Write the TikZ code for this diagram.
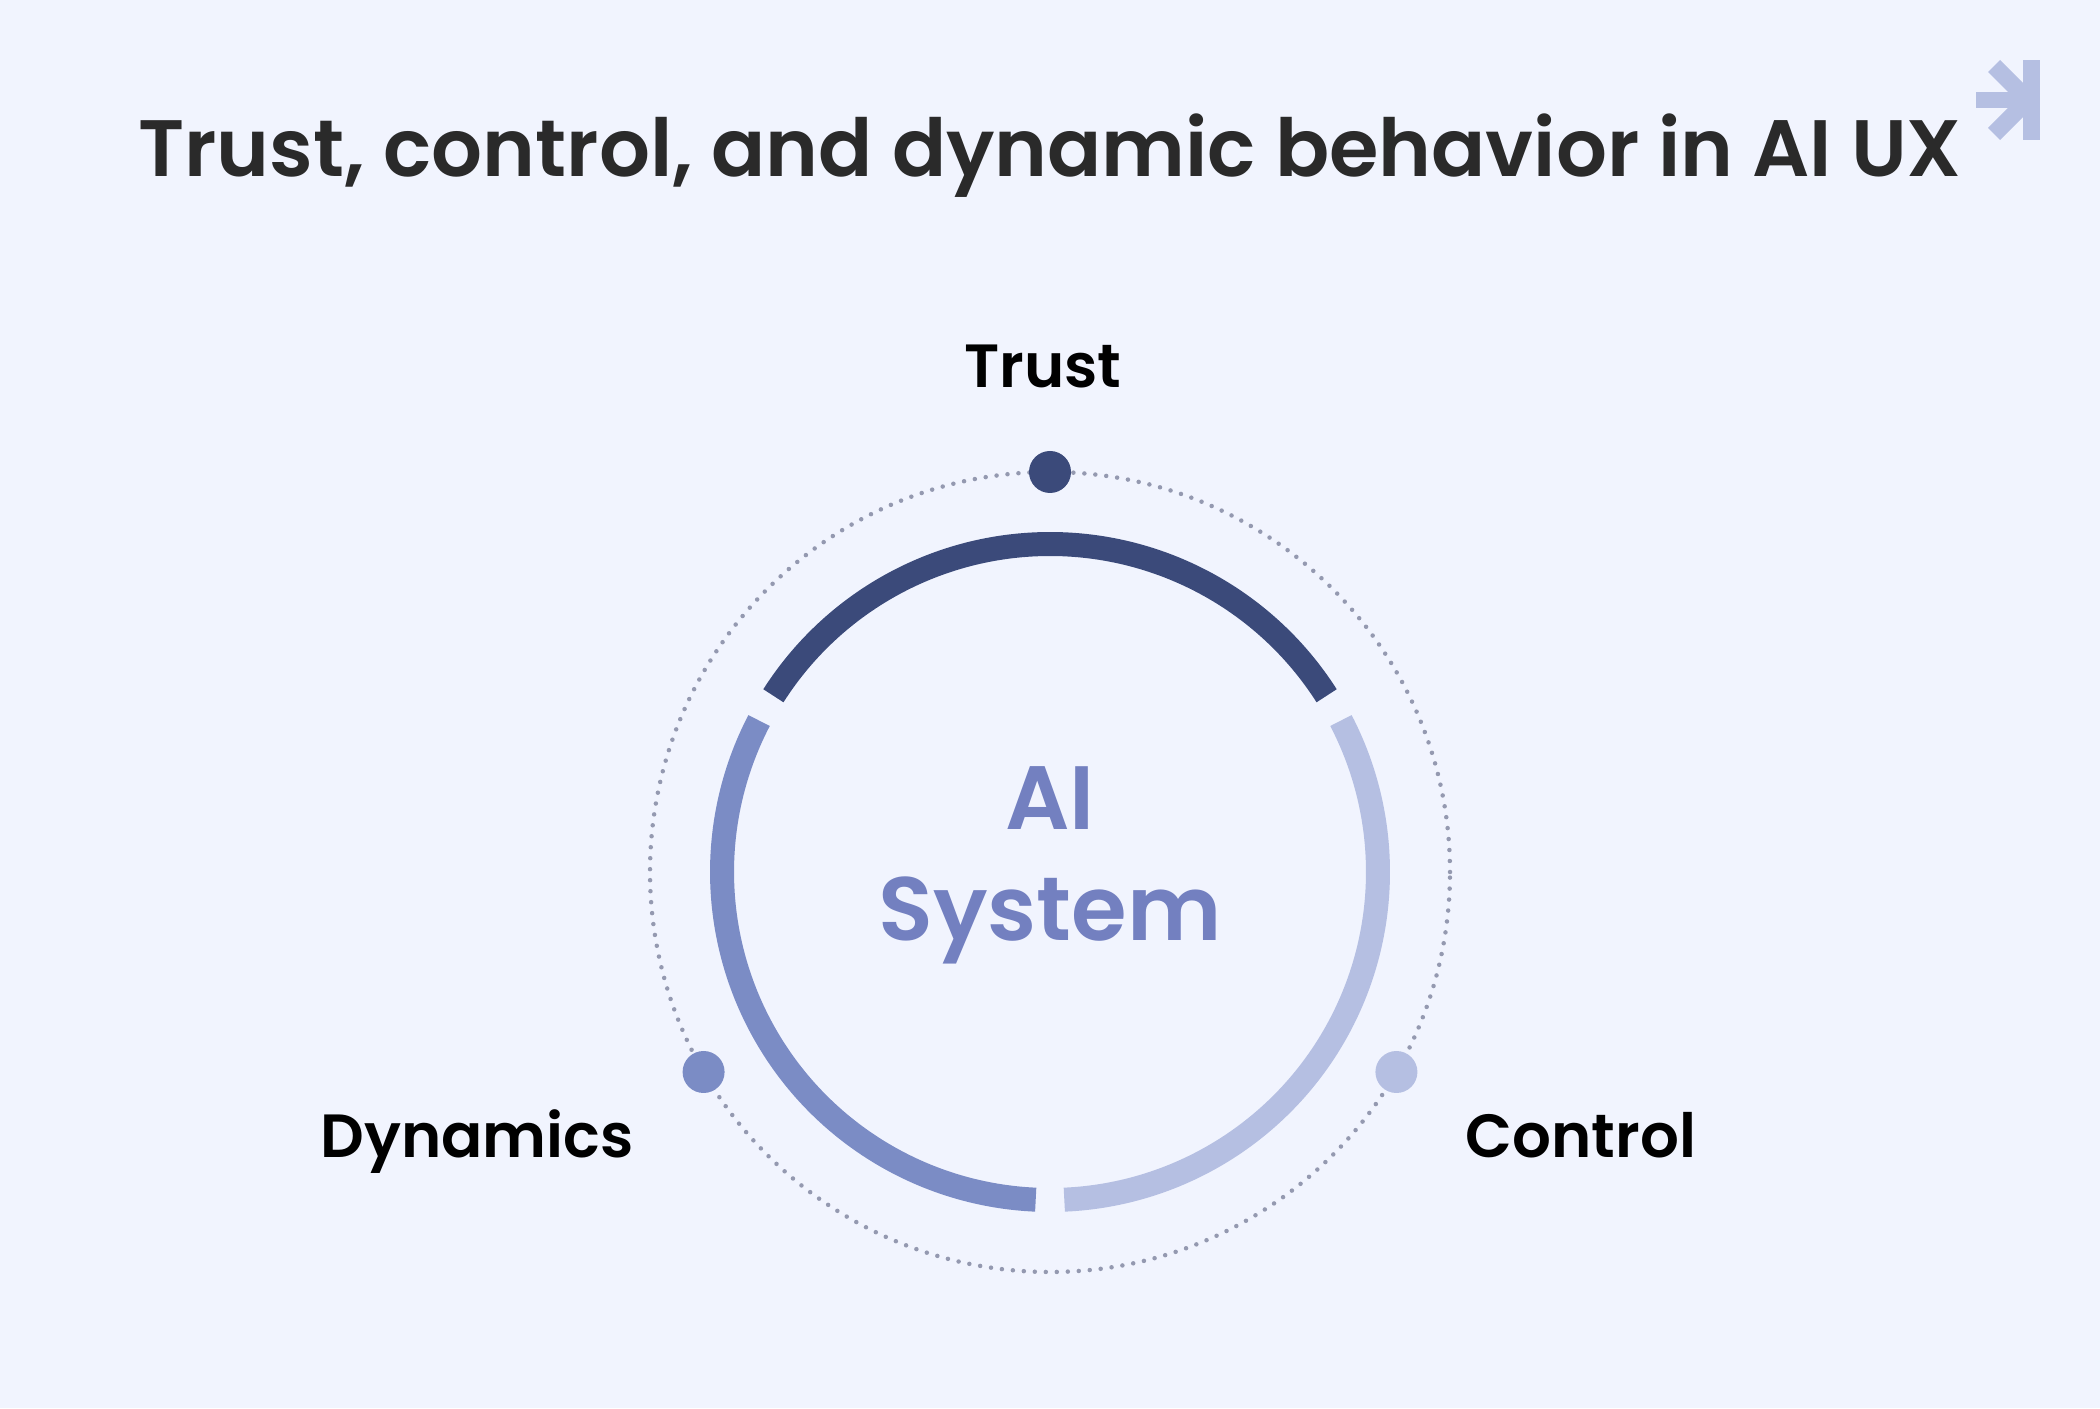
\documentclass[tikz,border=0pt]{standalone}
\usepackage{fontspec}
\setmainfont{Poppins}[BoldFont={Poppins SemiBold}]
\definecolor{bg}{HTML}{F1F4FE}
\definecolor{trustc}{HTML}{3B4A7A}
\definecolor{dync}{HTML}{7B8CC5}
\definecolor{ctrlc}{HTML}{B5BFE2}
\definecolor{aic}{HTML}{7380C0}
\definecolor{titlec}{HTML}{2A2A2A}
\definecolor{dotc}{HTML}{9499B0}
\tikzset{
  ring/.style={line width=24pt},
  orbit/.style={draw=dotc, line width=4.5pt, line cap=round, dash pattern=on 0pt off 11pt},
  marker/.style={circle, inner sep=0pt, minimum size=42pt},
  lbl/.style={anchor=base, text=black, font=\fontsize{61}{70}\selectfont\bfseries},
}
\begin{document}
\begin{tikzpicture}[x=1pt,y=1pt]
\fill[bg] (0,0) rectangle (2100,1408);
\useasboundingbox (0,0) rectangle (2100,1408);
% title
\node[anchor=base, text=titlec, font=\fontsize{80}{90}\selectfont\bfseries] (title) at (1050,1231) {Trust, control, and dynamic behavior in AI UX};
% logo
\begin{scope}[ctrlc]
\draw[line width=17pt] (1994,1342) -- (2030,1306);
\draw[line width=17pt] (1994,1274) -- (2030,1310);
\fill (1976,1300) rectangle (2030,1316);
\fill (2023,1268) rectangle (2040,1348);
\end{scope}
% center
\coordinate (c) at (1050,536);
\draw[orbit] (c) circle[radius=400];
\draw[ring, trustc] ([shift={(32.5:328)}]c) arc[start angle=32.5, end angle=147.5, radius=328];
\draw[ring, dync] ([shift={(152.5:328)}]c) arc[start angle=152.5, end angle=267.5, radius=328];
\draw[ring, ctrlc] ([shift={(272.5:328)}]c) arc[start angle=272.5, end angle=387.5, radius=328];
\node[marker, fill=trustc] (dtrust) at ([shift={(90:400)}]c) {};
\node[marker, fill=dync] (ddyn) at ([shift={(210:400)}]c) {};
\node[marker, fill=ctrlc] (dctrl) at ([shift={(330:400)}]c) {};
% AI System
\node[anchor=base, text=aic, font=\fontsize{90}{100}\selectfont\bfseries] (ai) at (1050,578) {AI};
\node[anchor=base, text=aic, font=\fontsize{90}{100}\selectfont\bfseries] (sys) at (1050,467) {System};
% labels
\node[lbl] (ltrust) at (1043,1020) {Trust};
\node[lbl] (ldyn) at (477,250) {Dynamics};
\node[lbl] (lctrl) at (1581,250) {Control};
\end{tikzpicture}
\end{document}
